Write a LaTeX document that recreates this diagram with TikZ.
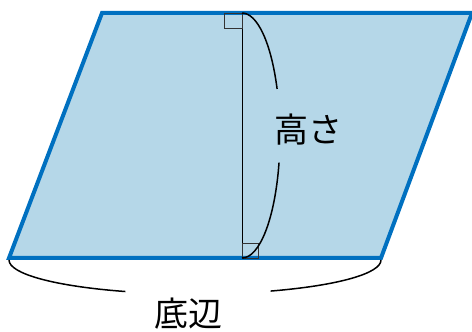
\documentclass[tikz,border=0pt]{standalone}
\usepackage{fontspec}
\newfontfamily\jpfont{Noto Sans CJK JP}
\definecolor{edgeblue}{HTML}{0070C0}
\definecolor{areablue}{HTML}{B5D7E8}

\begin{document}
\begin{tikzpicture}[x=1pt, y=1pt,
    side/.style={draw=edgeblue, line width=4pt, fill=areablue, line join=miter},
    brace/.style={line width=1.5pt},
    corner box/.style={draw=black!80, line width=0.9pt},
    label/.style={font=\jpfont\fontsize{34}{34}\selectfont}]

  \useasboundingbox (0,0) rectangle (472,332);

  \coordinate (A) at (9,74);
  \coordinate (B) at (381,74);
  \coordinate (C) at (472,319);
  \coordinate (D) at (102,319);
  \coordinate (H1) at (242,319);
  \coordinate (H2) at (242,74);

  \begin{scope}
    \clip (0,0) rectangle (472,332);
    \draw[side] (A) -- (B) -- (C) -- (D) -- cycle;
  \end{scope}

  % height and right angles
  \draw[line width=1pt] (H1) -- (H2);
  \draw[corner box] (H1) rectangle ++(-18,-15);
  \draw[corner box] (H2) rectangle ++(16,15);

  % brace for the height
  \draw[brace] (H1) arc[start angle=90, end angle=22.5, x radius=38, y radius=123];
  \draw[brace] (H2) arc[start angle=-90, end angle=-13, x radius=38, y radius=123];
  \node[label] (height) at (308,202) {高さ};

  % brace for the base
  \draw[brace] (A) ++(0,-2) arc[start angle=180, end angle=248, x radius=186, y radius=34];
  \draw[brace] (B) ++(0,-2) arc[start angle=360, end angle=294, x radius=186, y radius=34];
  \node[label] (base) at (188,18) {底辺};
\end{tikzpicture}
\end{document}
